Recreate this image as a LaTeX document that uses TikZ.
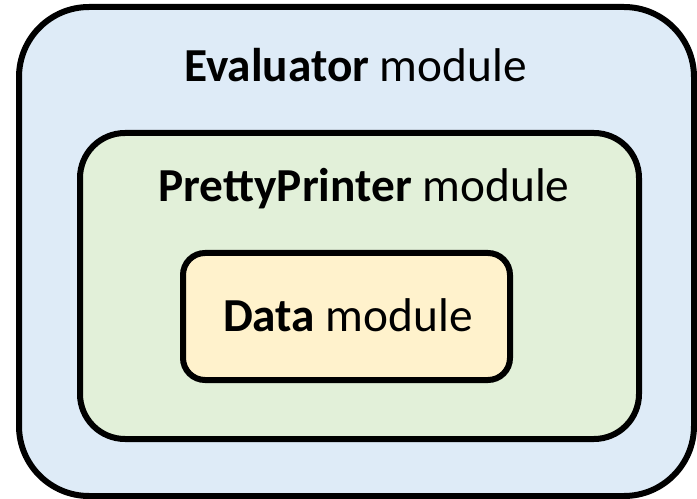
\documentclass[tikz,border=0pt]{standalone}
\usepackage{fontspec}
\setmainfont{Carlito}
\usepackage{xcolor}
\definecolor{evalblue}{HTML}{DEEBF7}
\definecolor{ppgreen}{HTML}{E2F0D9}
\definecolor{datagold}{HTML}{FFF2CC}

\begin{document}
\begin{tikzpicture}[x=0.75pt,y=0.75pt,yscale=-1,xscale=1]
\useasboundingbox (0,0) rectangle (697,499);

%Shape: Rounded Rect [id:evaluator]
\draw [line width=4.5pt, fill=evalblue, rounded corners=70*0.75pt] (19,7) rectangle (694,496) ;
%Shape: Rounded Rect [id:prettyprinter]
\draw [line width=4.5pt, fill=ppgreen, rounded corners=45*0.75pt] (80,133) rectangle (639,439) ;
%Shape: Rounded Rect [id:data]
\draw [line width=4.5pt, fill=datagold, rounded corners=22*0.75pt] (183,253) rectangle (510,380) ;

% Text Node
\draw (355.5,82) node [anchor=base][inner sep=0pt] (evallbl) {\fontsize{35.5}{42}\selectfont\textbf{Evaluator} module};
% Text Node
\draw (364,202) node [anchor=base][inner sep=0pt] (pplbl) {\fontsize{35.5}{42}\selectfont\textbf{PrettyPrinter} module};
% Text Node
\draw (348,332) node [anchor=base][inner sep=0pt] (datalbl) {\fontsize{35.5}{42}\selectfont\textbf{Data} module};

\end{tikzpicture}
\end{document}
